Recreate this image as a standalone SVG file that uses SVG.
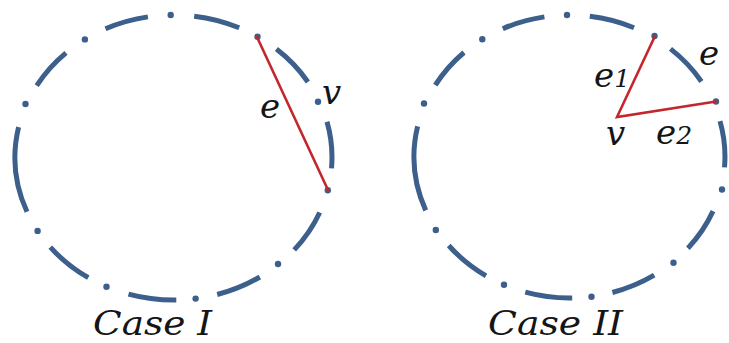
<svg xmlns="http://www.w3.org/2000/svg" width="729" height="343" viewBox="0 0 729 343">
<style>
.ring{fill:none;stroke:#3d5f8b;stroke-width:5;stroke-linecap:butt}
.dot{fill:#3d5f8b}
.edge{stroke:#c3262c;stroke-width:2.6;fill:none;stroke-linecap:round}
.lbl{font-family:"DejaVu Serif","Liberation Serif",serif;font-style:italic;fill:#151515;font-size:34px}
.num{font-size:25px}
</style>
<rect width="729" height="343" fill="#ffffff"/>
<g id="case1">
  <g id="ring1">
    <path class="ring" d="M194.2 16.2 A158.5 142.5 0 0 1 239.2 27.8 M276.4 49.1 A158.5 142.5 0 0 1 307.9 82 M327 121.8 A158.5 142.5 0 0 1 331.5 168.4 M319.7 212.5 A158.5 142.5 0 0 1 294.2 249.9 M259.8 277 A158.5 142.5 0 0 1 217.2 294.5 M176.3 300 A158.5 142.5 0 0 1 128.5 294.1 M88.3 277.7 A158.5 142.5 0 0 1 50.3 247.2 M27 211.8 A158.5 142.5 0 0 1 18.6 127.1 M36.7 85.6 A158.5 142.5 0 0 1 66 52.8 M105.5 28.8 A158.5 142.5 0 0 1 147.9 16.9"/>
    <circle class="dot" cx="170.7" cy="15" r="3.2"/>
    <circle class="dot" cx="257.5" cy="36.7" r="3.2"/>
    <circle class="dot" cx="318" cy="101.8" r="3.2"/>
    <circle class="dot" cx="327.8" cy="190.3" r="3.2"/>
    <circle class="dot" cx="278" cy="264" r="3.2"/>
    <circle class="dot" cx="195.6" cy="298.6" r="3.2"/>
    <circle class="dot" cx="106.5" cy="286.7" r="3.2"/>
    <circle class="dot" cx="37.6" cy="230.9" r="3.2"/>
    <circle class="dot" cx="25.5" cy="104" r="3.2"/>
    <circle class="dot" cx="84.9" cy="39.4" r="3.2"/>
  </g>
  <g id="edges1">
    <line class="edge" x1="257" y1="37" x2="328" y2="190"/>
  </g>
  <text class="lbl" x="260" y="118">e</text>
  <text class="lbl" x="322" y="104">v</text>
  <text class="lbl" x="93" y="335" textLength="119" lengthAdjust="spacingAndGlyphs">Case I</text>
</g>
<g id="case2">
  <g id="ring2">
    <path class="ring" d="M589.8 16.2 A155.5 141.5 0 0 1 634 27.7 M670.5 48.9 A155.5 141.5 0 0 1 701.4 81.5 M720 121.1 A155.5 141.5 0 0 1 724.5 167.4 M713 211.1 A155.5 141.5 0 0 1 687.9 248.2 M654.2 275.2 A155.5 141.5 0 0 1 612.4 292.5 M572.2 298 A155.5 141.5 0 0 1 525.3 292.2 M486 275.8 A155.5 141.5 0 0 1 448.7 245.5 M425.7 210.4 A155.5 141.5 0 0 1 417.6 126.4 M435.3 85.1 A155.5 141.5 0 0 1 464 52.5 M502.8 28.7 A155.5 141.5 0 0 1 544.4 16.9"/>
    <circle class="dot" cx="567" cy="15" r="3.2"/>
    <circle class="dot" cx="654.5" cy="36" r="3.2"/>
    <circle class="dot" cx="716" cy="101.5" r="3.2"/>
    <circle class="dot" cx="722" cy="189.5" r="3.2"/>
    <circle class="dot" cx="673.5" cy="262.8" r="3.2"/>
    <circle class="dot" cx="591.5" cy="296.8" r="3.2"/>
    <circle class="dot" cx="504" cy="284.7" r="3.2"/>
    <circle class="dot" cx="435.8" cy="230" r="3.2"/>
    <circle class="dot" cx="424" cy="103.5" r="3.2"/>
    <circle class="dot" cx="482.3" cy="39.2" r="3.2"/>
  </g>
  <g id="edges2">
    <polyline class="edge" points="655,36 617,117 716,101.5"/>
  </g>
  <text class="lbl" x="594" y="87">e<tspan class="num">1</tspan></text>
  <text class="lbl" x="699" y="65">e</text>
  <text class="lbl" x="606" y="145">v</text>
  <text class="lbl" x="656" y="144">e<tspan class="num">2</tspan></text>
  <text class="lbl" x="488" y="335" textLength="135" lengthAdjust="spacingAndGlyphs">Case II</text>
</g>
</svg>
